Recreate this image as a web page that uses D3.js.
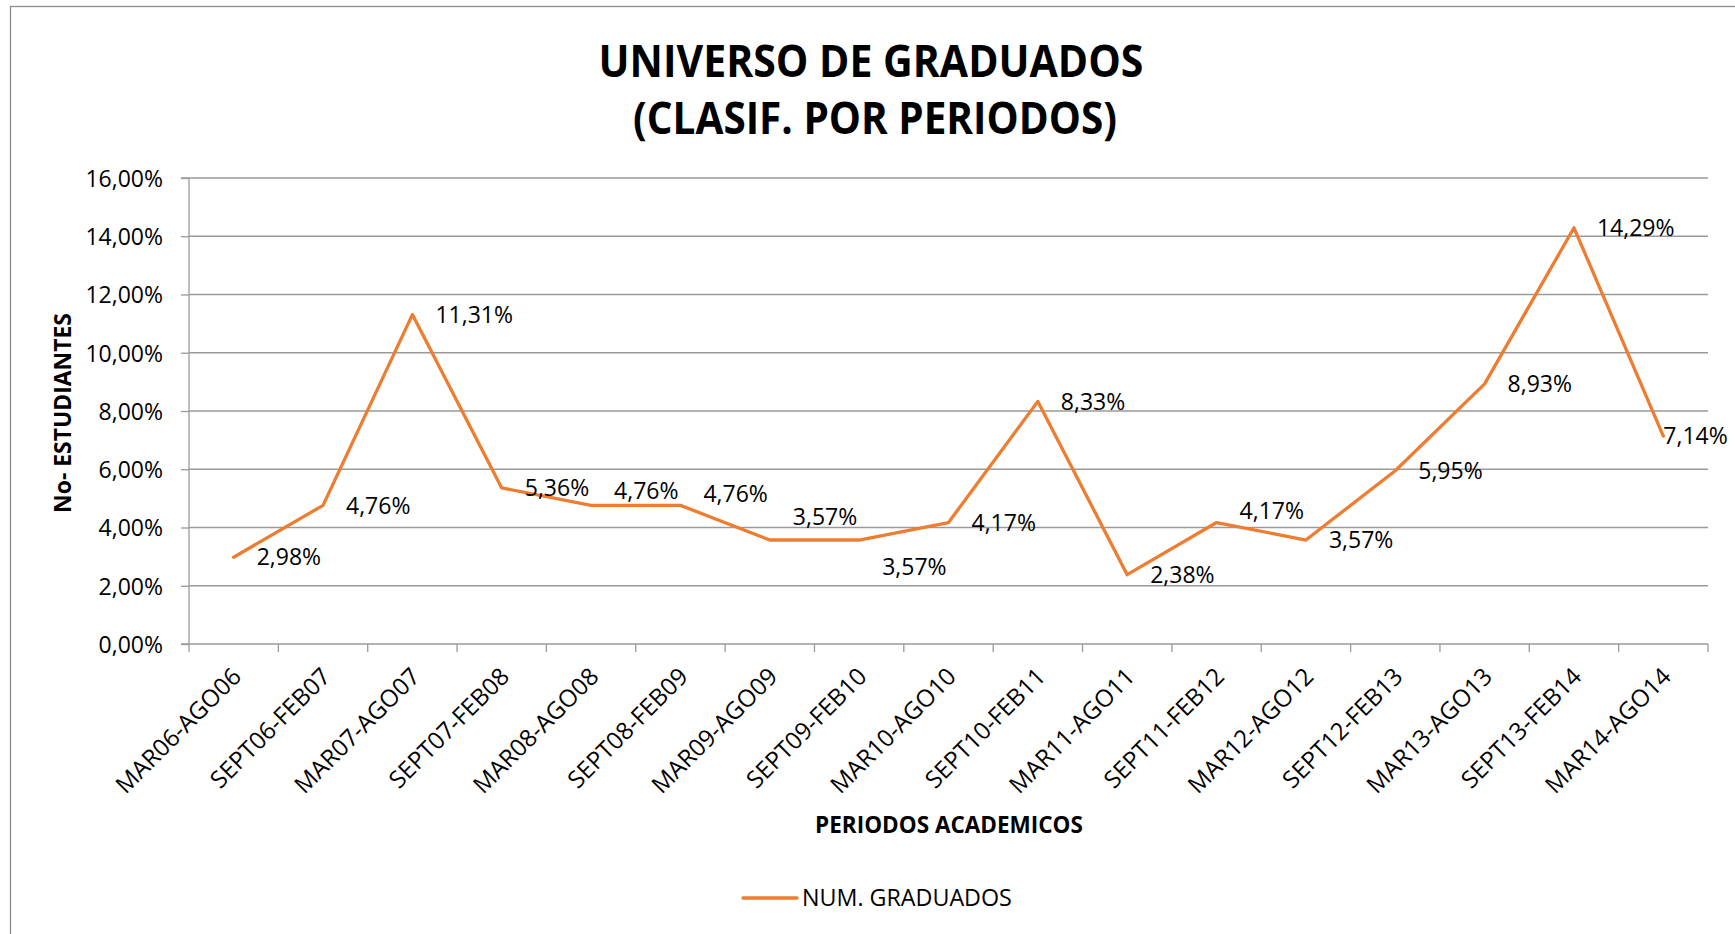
<!DOCTYPE html>
<html>
<head>
<meta charset="utf-8">
<script src="https://cdn.jsdelivr.net/npm/d3@7"></script>
<style>
  html, body { margin: 0; padding: 0; background: #fff; }
  svg { display: block; }
  text { font-family: "Open Sans", "Noto Sans", sans-serif; fill: #000; }
</style>
</head>
<body>
<svg id="chart" width="1735" height="934"></svg>
<script>
// ---- data ----
const categories = ["MAR06-AGO06","SEPT06-FEB07","MAR07-AGO07","SEPT07-FEB08","MAR08-AGO08","SEPT08-FEB09",
  "MAR09-AGO09","SEPT09-FEB10","MAR10-AGO10","SEPT10-FEB11","MAR11-AGO11","SEPT11-FEB12","MAR12-AGO12",
  "SEPT12-FEB13","MAR13-AGO13","SEPT13-FEB14","MAR14-AGO14"];
const graduados = [2.98, 4.76, 11.31, 5.36, 4.76, 4.76, 3.57, 3.57, 4.17, 8.33, 2.38, 4.17, 3.57, 5.95, 8.93, 14.29, 7.14];
const yTicks = [0, 2, 4, 6, 8, 10, 12, 14, 16];
const titleLines = ["UNIVERSO DE GRADUADOS", "(CLASIF. POR PERIODOS)"];
const xTitle = "PERIODOS ACADEMICOS";
const yTitle = "No- ESTUDIANTES";
const seriesName = "NUM. GRADUADOS";

// ---- layout (label nudges in pixels, as placed in the original) ----
const labelNudgeX = [23,23,23,23,23,23,23,23,23,23,23,23,23,23,23,23,0];
const labelNudgeY = [0,0,0,0,-15,-12,-23,27,0,0,0,-12,0,0,0,0,0];

const svg = d3.select("#chart");
const plot = { left: 189, right: 1708, top: 178, bottom: 644 };
const orange = "#ED7D31";
const grid = "#9a9a9a";
const fs = 23;

const loc = d3.formatLocale({ decimal: ",", thousands: ".", grouping: [3], currency: ["", ""] });
const fmt = v => loc.format(".2f")(v) + "%";

// border
svg.append("rect").attr("x", 10.5).attr("y", 6.5).attr("width", 1800).attr("height", 1000)
  .attr("fill", "none").attr("stroke", "#8c8c8c").attr("stroke-width", 1.3);

const x = d3.scaleBand().domain(categories).range([plot.left, plot.right]).padding(0);
const y = d3.scaleLinear().domain([0, 16]).range([plot.bottom, plot.top]);

// gridlines
svg.append("g").selectAll("line").data(yTicks.filter(t => t > 0)).join("line")
  .attr("x1", plot.left).attr("x2", plot.right)
  .attr("y1", d => y(d)).attr("y2", d => y(d))
  .attr("stroke", grid).attr("stroke-width", 1.3);

// y axis
const yAxis = d3.axisLeft(y).tickValues(yTicks).tickSize(8).tickPadding(18).tickFormat(fmt);
const gy = svg.append("g").attr("transform", `translate(${plot.left},0)`).call(yAxis);
gy.select(".domain").attr("stroke", grid).attr("stroke-width", 1.3).attr("d", `M-8,${plot.bottom}H0V${plot.top}H-8`);
gy.selectAll(".tick line").attr("stroke", grid).attr("stroke-width", 1.3);
gy.selectAll(".tick text").attr("font-size", fs).attr("font-family", "Open Sans").attr("fill", "#000").attr("dy", "0.36em");

// x axis: ticks at band boundaries
const bounds = categories.map(c => x(c)).concat([plot.right]);
svg.append("line").attr("x1", plot.left).attr("x2", plot.right).attr("y1", plot.bottom).attr("y2", plot.bottom)
  .attr("stroke", grid).attr("stroke-width", 1.3);
svg.append("g").selectAll("line").data(bounds).join("line")
  .attr("x1", d => d).attr("x2", d => d).attr("y1", plot.bottom).attr("y2", plot.bottom + 8)
  .attr("stroke", grid).attr("stroke-width", 1.3);

const cx = c => x(c) + x.bandwidth() / 2;
svg.append("g").selectAll("text").data(categories).join("text")
  .attr("transform", d => `translate(${cx(d) - 3},${plot.bottom + 22}) rotate(-45)`)
  .attr("text-anchor", "end").attr("dy", "0.71em")
  .attr("font-size", 24).text(d => d);

// line
const pts = categories.map((c, i) => ({ c, v: graduados[i], i }));
const line = d3.line().x(d => cx(d.c)).y(d => y(d.v));
svg.append("path").datum(pts).attr("d", line)
  .attr("fill", "none").attr("stroke", orange).attr("stroke-width", 3.3)
  .attr("stroke-linejoin", "round").attr("stroke-linecap", "round");

// data labels
svg.append("g").selectAll("text").data(pts).join("text")
  .attr("x", d => cx(d.c) + labelNudgeX[d.i])
  .attr("y", d => y(d.v) + labelNudgeY[d.i])
  .attr("dy", "0.36em").attr("font-size", fs).text(d => fmt(d.v));

// fit helpers
function fitWidth(sel, target) {
  const w = sel.node().getComputedTextLength();
  const f = parseFloat(sel.attr("font-size"));
  sel.attr("font-size", f * target / w);
}
function compressTo(sel, cxp, by, target) {
  const w = sel.node().getComputedTextLength();
  sel.attr("transform", `translate(${cxp},${by}) scale(${target / w},1)`);
}

// title (condensed like the original bold face)
const t1 = svg.append("text").attr("text-anchor", "middle")
  .attr("font-weight", "bold").attr("font-size", 45).text(titleLines[0]);
compressTo(t1, 871, 77, 545);
const t2 = svg.append("text").attr("text-anchor", "middle")
  .attr("font-weight", "bold").attr("font-size", 45).text(titleLines[1]);
compressTo(t2, 875, 134, 484);

// axis titles
const xt = svg.append("text").attr("x", 949).attr("y", 833).attr("text-anchor", "middle")
  .attr("font-weight", "bold").attr("font-size", 21).text(xTitle);
fitWidth(xt, 268);
const yt = svg.append("text").attr("transform", `translate(71,413) rotate(-90)`).attr("text-anchor", "middle")
  .attr("font-weight", "bold").attr("font-size", 21).text(yTitle);
fitWidth(yt, 200);

// legend
svg.append("line").attr("x1", 743).attr("x2", 797).attr("y1", 898).attr("y2", 898)
  .attr("stroke", orange).attr("stroke-width", 3.3).attr("stroke-linecap", "round");
const lt = svg.append("text").attr("x", 802).attr("y", 905.5).attr("font-size", fs).text(seriesName);
fitWidth(lt, 210);
</script>
</body>
</html>
